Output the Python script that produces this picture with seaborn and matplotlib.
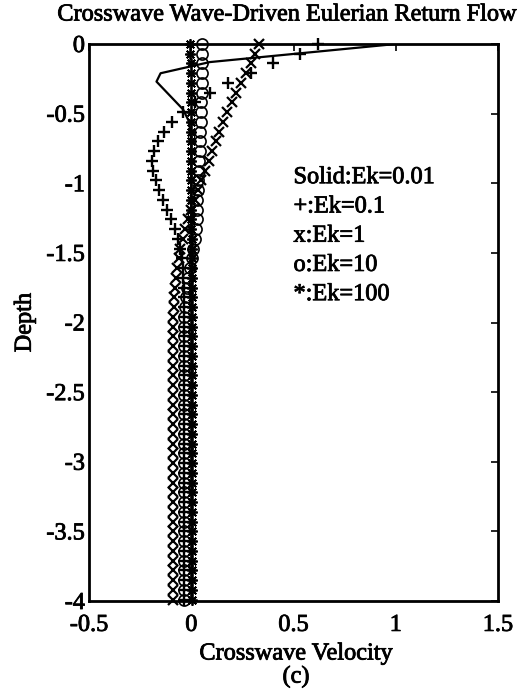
import matplotlib
matplotlib.use("Agg")
import matplotlib.pyplot as plt
import matplotlib.patheffects as pe
import seaborn as sns

# Depth levels of the model grid (surface = 0)
depth = [0.00, -0.07, -0.14, -0.21, -0.28, -0.35, -0.42, -0.49, -0.56, -0.63,
         -0.70, -0.77, -0.84, -0.91, -0.98, -1.05, -1.12, -1.19, -1.26, -1.33,
         -1.40, -1.47, -1.54, -1.61, -1.68, -1.75, -1.82, -1.89, -1.96, -2.03,
         -2.10, -2.17, -2.24, -2.31, -2.38, -2.45, -2.52, -2.59, -2.66, -2.73,
         -2.80, -2.87, -2.94, -3.01, -3.08, -3.15, -3.22, -3.29, -3.36, -3.43,
         -3.50, -3.57, -3.64, -3.71, -3.78, -3.85, -3.92, -3.99]

# Ek = 0.01 profile (solid line), on its own depth levels
depth_ek001 = [0.00, -0.13, -0.21, -0.27, -0.47, -0.56, -0.70, -1.00, -1.50,
               -2.00, -2.50, -3.00, -3.50, -4.00]
vel_ek001 = [1.00, 0.09, -0.15, -0.17, -0.04, -0.01, 0.00, 0.00, 0.00,
             0.00, 0.00, 0.00, 0.00, 0.00]

# Ek = 0.1 profile (+)
vel_ek01 = [0.62, 0.53, 0.40, 0.29, 0.18, 0.09, 0.02, -0.04, -0.095, -0.135,
            -0.165, -0.183, -0.190, -0.186, -0.174, -0.157, -0.138, -0.118, -0.098, -0.080,
            -0.066, -0.055, -0.047, -0.042, -0.039, -0.037, -0.036, -0.036, -0.035, -0.035,
            -0.035, -0.035, -0.035, -0.035, -0.035, -0.035, -0.035, -0.035, -0.035, -0.035,
            -0.035, -0.035, -0.035, -0.035, -0.035, -0.035, -0.035, -0.035, -0.035, -0.035,
            -0.035, -0.035, -0.035, -0.035, -0.035, -0.035, -0.035, -0.035]

# Ek = 1 profile (x)
vel_ek1 = [0.330, 0.310, 0.290, 0.270, 0.245, 0.220, 0.197, 0.176, 0.156, 0.137,
           0.120, 0.102, 0.085, 0.067, 0.049, 0.032, 0.016, 0.000, -0.015, -0.029,
           -0.042, -0.053, -0.062, -0.069, -0.075, -0.079, -0.082, -0.085, -0.087, -0.088,
           -0.089, -0.089, -0.090, -0.090, -0.090, -0.090, -0.090, -0.090, -0.090, -0.090,
           -0.090, -0.090, -0.090, -0.090, -0.090, -0.090, -0.090, -0.090, -0.090, -0.090,
           -0.090, -0.090, -0.090, -0.090, -0.090, -0.090, -0.090, -0.090]

# Ek = 10 profile (o)
vel_ek10 = [0.055, 0.055, 0.054, 0.053, 0.052, 0.051, 0.050, 0.048, 0.047, 0.045,
            0.043, 0.041, 0.039, 0.037, 0.034, 0.032, 0.030, 0.028, 0.026, 0.022,
            0.017, 0.010, 0.002, -0.007, -0.015, -0.022, -0.027, -0.031, -0.034, -0.035,
            -0.036, -0.036, -0.037, -0.037, -0.037, -0.037, -0.037, -0.037, -0.037, -0.037,
            -0.037, -0.037, -0.037, -0.037, -0.037, -0.037, -0.037, -0.037, -0.037, -0.037,
            -0.037, -0.037, -0.037, -0.037, -0.037, -0.037, -0.037, -0.037]

# Ek = 100 profile (*)
vel_ek100 = [-0.004, -0.004, -0.003, -0.003, -0.003, -0.002, -0.002, -0.002, -0.001, -0.001,
             -0.001, 0.000, 0.000, 0.000, 0.000, 0.001, 0.001, 0.001, 0.001, 0.001,
             0.002, 0.002, 0.002, 0.002, 0.002, 0.002, 0.002, 0.002, 0.002, 0.002,
             0.002, 0.002, 0.002, 0.002, 0.002, 0.002, 0.002, 0.002, 0.002, 0.002,
             0.002, 0.002, 0.002, 0.002, 0.002, 0.002, 0.002, 0.002, 0.002, 0.002,
             0.002, 0.002, 0.002, 0.002, 0.002, 0.002, 0.002, 0.002]

legend_lines = ["Solid:Ek=0.01", "+:Ek=0.1", "x:Ek=1", "o:Ek=10", "*:Ek=100"]
x_ticks = [-0.5, 0, 0.5, 1, 1.5]
x_ticklabels = ["-0.5", "0", "0.5", "1", "1.5"]
y_ticks = [0, -0.5, -1, -1.5, -2, -2.5, -3, -3.5, -4]
y_ticklabels = ["0", "-0.5", "-1", "-1.5", "-2", "-2.5", "-3", "-3.5", "-4"]

sns.set_theme(style="white")
plt.rcParams["font.family"] = ["Liberation Serif", "DejaVu Serif"]
FS = 17.5
# slightly heavier strokes for all lettering
heavy = [pe.withStroke(linewidth=0.6, foreground="black")]

fig = plt.figure(figsize=(5.28, 6.92), dpi=100)
ax = fig.add_axes([89 / 528, 1 - 601 / 692, 409 / 528, 557 / 692])

sns.lineplot(x=vel_ek001, y=depth_ek001, sort=False, estimator=None, ax=ax,
             color="black", linewidth=1.6)

marker_kw = dict(sort=False, estimator=None, ax=ax, color="black",
                 linestyle="", clip_on=False, markeredgecolor="black")
sns.lineplot(x=vel_ek01, y=depth, marker="+", markersize=9, markeredgewidth=1.7,
             **marker_kw)
sns.lineplot(x=vel_ek1, y=depth, marker="x", markersize=7, markeredgewidth=1.6,
             **marker_kw)
sns.lineplot(x=vel_ek10, y=depth, marker="o", markersize=8, markeredgewidth=1.2,
             markerfacecolor="none", **marker_kw)
sns.lineplot(x=vel_ek100, y=depth, marker=(8, 2, 0), markersize=7.5,
             markeredgewidth=1.3, **marker_kw)

ax.set_xlim(-0.5, 1.5)
ax.set_ylim(-4, 0)
ax.set_xticks(x_ticks)
ax.set_xticklabels(x_ticklabels)
ax.set_yticks(y_ticks)
ax.set_yticklabels(y_ticklabels)
ax.tick_params(axis="both", direction="in", top=True, right=True, length=5,
               width=1.2, color="black", labelsize=FS, labelcolor="black")
ax.tick_params(axis="x", pad=10)
ax.tick_params(axis="y", pad=3)
for lab in ax.get_xticklabels() + ax.get_yticklabels():
    lab.set_path_effects(heavy)
for sp in ax.spines.values():
    sp.set_color("black")
    sp.set_linewidth(2)

for i, txt in enumerate(legend_lines):
    ax.text(0.5, -0.96 - 0.21 * i, txt, ha="left", va="center", fontsize=FS,
            color="black", path_effects=heavy)

ax.set_ylabel("Depth", fontsize=FS, color="black", va="center",
              path_effects=heavy)
ax.yaxis.set_label_coords(-0.156, 0.5)
fig.text(296 / 528, 1 - 654 / 692, "Crosswave Velocity", ha="center",
         va="center", fontsize=FS, color="black", path_effects=heavy)
fig.text(296 / 528, 1 - 677 / 692, "(c)", ha="center", va="center",
         fontsize=FS, color="black", path_effects=heavy)
fig.text(287 / 528, 1 - 15 / 692, "Crosswave Wave-Driven Eulerian Return Flow",
         ha="center", va="center", fontsize=FS, color="black",
         path_effects=heavy)

fig.savefig("out.png", dpi=100, facecolor="white")
